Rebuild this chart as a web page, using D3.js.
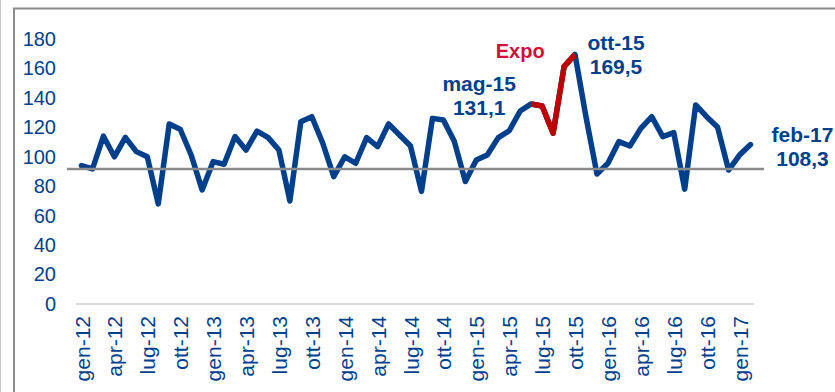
<!DOCTYPE html>
<html>
<head>
<meta charset="utf-8">
<script src="https://cdn.jsdelivr.net/npm/d3@7"></script>
<style>
  body { margin: 0; background: #fff; }
  text { font-family: Arial, "Liberation Sans", sans-serif; }
</style>
</head>
<body>
<svg id="chart"></svg>
<script>
let w = 835;
let h = 392;

// monthly index, gen-12 .. feb-17
let months = [
  "gen-12", "feb-12", "mar-12", "apr-12", "mag-12", "giu-12", "lug-12", "ago-12", "set-12", "ott-12", "nov-12", "dic-12",
  "gen-13", "feb-13", "mar-13", "apr-13", "mag-13", "giu-13", "lug-13", "ago-13", "set-13", "ott-13", "nov-13", "dic-13",
  "gen-14", "feb-14", "mar-14", "apr-14", "mag-14", "giu-14", "lug-14", "ago-14", "set-14", "ott-14", "nov-14", "dic-14",
  "gen-15", "feb-15", "mar-15", "apr-15", "mag-15", "giu-15", "lug-15", "ago-15", "set-15", "ott-15", "nov-15", "dic-15",
  "gen-16", "feb-16", "mar-16", "apr-16", "mag-16", "giu-16", "lug-16", "ago-16", "set-16", "ott-16", "nov-16", "dic-16",
  "gen-17", "feb-17"
];
let values = [
  94, 91.7, 114, 100, 113.2, 103.5, 100, 68, 122.3, 118.7, 101.2, 77.5,
  96.7, 94.9, 113.7, 104.6, 117.5, 113.2, 104.6, 70, 123.8, 127.2, 109.2, 86.5,
  100, 95.6, 113, 106.9, 122.3, 114.8, 107.3, 76.5, 126.1, 125, 110.3, 83.2,
  97.8, 101.2, 113, 117.7, 131.1, 135.9, 134.5, 116, 161.2, 169.5, 127, 88.3,
  95.6, 110.3, 107.3, 119.3, 127.2, 113.7, 116.4, 78, 135.2, 127.2, 120, 91,
  101.2, 108.3
];
let expoMonths = ["giu-15", "lug-15", "ago-15", "set-15", "ott-15"];
let xTickLabels = [
  "gen-12", "apr-12", "lug-12", "ott-12", "gen-13", "apr-13", "lug-13", "ott-13",
  "gen-14", "apr-14", "lug-14", "ott-14", "gen-15", "apr-15", "lug-15", "ott-15",
  "gen-16", "apr-16", "lug-16", "ott-16", "gen-17"
];
let yTicks = [0, 20, 40, 60, 80, 100, 120, 140, 160, 180];
let refValue = 91.7;
let callouts = [
  { month: "mag-15", lines: ["mag-15", "131,1"] },
  { month: "ott-15", lines: ["ott-15", "169,5"] },
  { month: "feb-17", lines: ["feb-17", "108,3"] }
];

let blue = "#003f8c";
let red = "#c00000";

let svg = d3.select("#chart").attr("width", w).attr("height", h);

// frame
svg.append("line").attr("x1", 0.5).attr("x2", 0.5).attr("y1", 0).attr("y2", h)
  .attr("stroke", "#c8c8c8").attr("stroke-width", 1);
svg.append("line").attr("x1", 14).attr("x2", 14).attr("y1", 8).attr("y2", h)
  .attr("stroke", "#8c8c8c").attr("stroke-width", 2);
svg.append("line").attr("x1", 13).attr("x2", w).attr("y1", 8.5).attr("y2", 8.5)
  .attr("stroke", "#8c8c8c").attr("stroke-width", 2);

let xScale = d3.scalePoint().domain(months).range([76, 756]).padding(0.5),
  yScale = d3.scaleLinear().domain([0, 180]).range([304, 39]);

let data = months.map(function (m, i) {
  return { month: m, value: values[i] };
});

// y axis
let yAxis = svg.append("g")
  .attr("transform", "translate(76,0)")
  .call(d3.axisLeft(yScale).tickValues(yTicks).tickSize(0).tickPadding(20));
yAxis.select(".domain").remove();
yAxis.selectAll("text")
  .attr("fill", blue)
  .style("font-size", "20px")
  .style("font-family", "Arial, 'Liberation Sans', sans-serif");

// baseline
svg.append("line")
  .attr("x1", 76).attr("x2", 754)
  .attr("y1", yScale(0)).attr("y2", yScale(0))
  .attr("stroke", "#d9d9d9").attr("stroke-width", 2);

// x axis
let xAxis = svg.append("g")
  .attr("transform", "translate(0," + yScale(0) + ")")
  .call(d3.axisBottom(xScale).tickValues(xTickLabels).tickSize(0));
xAxis.select(".domain").remove();
xAxis.selectAll("text")
  .attr("transform", "rotate(-90)")
  .attr("x", -12)
  .attr("y", 0)
  .attr("dy", "0.36em")
  .attr("fill", blue)
  .style("text-anchor", "end")
  .style("font-size", "21px")
  .style("font-family", "Arial, 'Liberation Sans', sans-serif");

let line = d3.line()
  .x(function (d) { return xScale(d.month); })
  .y(function (d) { return yScale(d.value); });

svg.append("path")
  .datum(data)
  .attr("d", line)
  .attr("fill", "none")
  .attr("stroke", blue)
  .attr("stroke-width", 5.5)
  .attr("stroke-linejoin", "round")
  .attr("stroke-linecap", "round");

// Expo months in red
svg.append("path")
  .datum(data.filter(function (d) { return expoMonths.indexOf(d.month) >= 0; }))
  .attr("d", line)
  .attr("fill", "none")
  .attr("stroke", red)
  .attr("stroke-width", 5.5)
  .attr("stroke-linejoin", "round");

// reference level
svg.append("line")
  .attr("x1", 67).attr("x2", 764)
  .attr("y1", yScale(refValue)).attr("y2", yScale(refValue))
  .attr("stroke", "#8a8a8a").attr("stroke-width", 2.5);

// callouts
let offsets = { "mag-15": [-41, -20], "ott-15": [41, -4], "feb-17": [52, -3] };
callouts.forEach(function (c) {
  let o = offsets[c.month];
  let t = svg.append("text")
    .attr("x", xScale(c.month) + o[0])
    .attr("y", yScale(values[months.indexOf(c.month)]) + o[1])
    .attr("text-anchor", "middle")
    .attr("fill", blue)
    .style("font-size", "21px")
    .style("font-weight", "bold");
  c.lines.forEach(function (s, i) {
    t.append("tspan")
      .attr("x", xScale(c.month) + o[0])
      .attr("dy", i === 0 ? 0 : 24)
      .text(s);
  });
});

svg.append("text")
  .attr("x", xScale("mag-15"))
  .attr("y", yScale(169.5) + 4)
  .attr("text-anchor", "middle")
  .attr("fill", "#d0103a")
  .style("font-size", "20px")
  .style("font-weight", "bold")
  .text("Expo");
</script>
</body>
</html>
